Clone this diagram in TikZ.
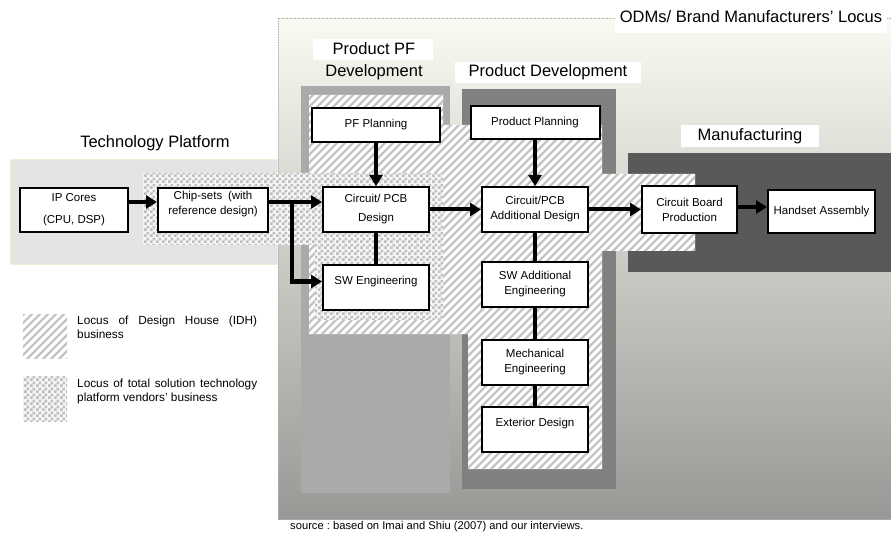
\documentclass[tikz,border=0pt]{standalone}
\usepackage{fontspec}
\setmainfont{Liberation Sans}
\usetikzlibrary{arrows.meta, patterns}
\definecolor{odmtop}{RGB}{250,250,242}
\definecolor{odmbot}{RGB}{152,152,150}
\definecolor{tpgrey}{RGB}{228,228,228}
\definecolor{tpedge}{RGB}{240,240,212}
\definecolor{pfgrey}{RGB}{170,170,170}
\definecolor{pdgrey}{RGB}{128,128,128}
\definecolor{mfgrey}{RGB}{89,89,89}
\definecolor{stripegrey}{RGB}{196,196,196}
\definecolor{checkgrey}{RGB}{190,190,190}
\hyphenpenalty=10000
\exhyphenpenalty=10000
\frenchspacing
\pgfdeclarepatternformonly{bigchecks}{\pgfqpoint{0pt}{0pt}}{\pgfqpoint{6pt}{6pt}}{\pgfqpoint{6pt}{6pt}}{%
  \pgfpathrectangle{\pgfqpoint{0pt}{0pt}}{\pgfqpoint{3pt}{3pt}}%
  \pgfpathrectangle{\pgfqpoint{3pt}{3pt}}{\pgfqpoint{3pt}{3pt}}%
  \pgfusepath{fill}}

\begin{document}
\begin{tikzpicture}[x=1pt, y=-1pt,
        stage/.style={rectangle, draw=black, fill=white, line width=2pt, minimum width=106pt, minimum height=45pt, align=center, inner sep=1pt, font=\fontsize{11.5}{15}\selectfont},
        flow/.style={line width=4pt, -{Triangle[length=11pt,width=13pt]}},
        link/.style={line width=4pt},
        phase/.style={font=\fontsize{16.5}{22}\selectfont, align=center, inner sep=0pt},
        note/.style={font=\fontsize{11.8}{14}\selectfont, anchor=north west, text width=180pt, align=justify, inner sep=0pt},
        stripes/.style={stripegrey, line width=2.4pt},
        checks/.style={pattern=bigchecks, pattern color=checkgrey}
    ]
        \useasboundingbox (0,0) rectangle (891,537);

        % areas
        \shade[top color=odmtop, bottom color=odmbot] (278,18) rectangle (891,519);
        \draw[gray!60, densely dotted, line width=0.6pt] (891,18) -- (278,18) -- (278,519) -- (891,519);
        \draw[tpedge, fill=tpgrey, line width=1pt] (10,160) rectangle (277,265);
        \fill[pfgrey] (301,86) rectangle (450,493);
        \fill[pdgrey] (462,89) rectangle (616,489);
        \fill[mfgrey] (628,153) rectangle (891,272);

        % design house locus
        \begin{scope}
            \clip (309,95) -- (443,95) -- (443,125) -- (602,125) -- (602,174) -- (695,174) -- (695,251)
                -- (602,251) -- (602,469) -- (468,469) -- (468,334) -- (309,334) -- cycle;
            \fill[white] (300,90) rectangle (700,470);
            \foreach \c in {400,408,...,1080}
                \draw[stripes] (\c,0) -- (\c-600,600);
        \end{scope}

        % platform vendors' locus
        \fill[white!96!black] (143,173) -- (443,173) -- (443,320) -- (315,320) -- (315,245) -- (143,245) -- cycle;
        \fill[checks] (143,173) -- (443,173) -- (443,320) -- (315,320) -- (315,245) -- (143,245) -- cycle;

        % headings
        \node[phase, fill=white, minimum width=272pt, minimum height=33pt] (odm) at (751,16.5) {ODMs/ Brand Manufacturers' Locus};
        \node[phase] (tp) at (155,143) {Technology Platform};
        \fill[white] (313,39) rectangle (433,60);
        \node[phase] (pf) at (374,61) {Product PF\\Development};
        \node[phase, fill=white, minimum width=186pt, minimum height=21pt] (pd) at (548,72.5) {Product Development};
        \node[phase, fill=white, minimum width=138pt, minimum height=22pt] (mf) at (750,136) {Manufacturing};

        % stages
        \node[stage, minimum width=108pt, minimum height=44pt, font=\fontsize{11.5}{22}\selectfont] (ip) at (74,210) {IP Cores\\(CPU, DSP)};
        \node[stage, minimum width=110pt, minimum height=44pt] (chip) at (213,210) {Chip-sets\enspace(with\\reference design)\\\mbox{}};
        \node[stage, minimum width=128pt, minimum height=34pt] (pfplan) at (376,125) {PF Planning};
        \node[stage, font=\fontsize{11.5}{19}\selectfont] (pcbd) at (376,209.5) {Circuit/ PCB\\Design};
        \node[stage] (sweng) at (376,287.5) {SW Engineering\\\mbox{}};
        \node[stage, minimum width=129pt, minimum height=33pt] (prodplan) at (535,122.5) {Product Planning};
        \node[stage] (pcba) at (535,209.5) {Circuit/PCB\\Additional Design};
        \node[stage] (swadd) at (535,284.5) {SW Additional\\Engineering};
        \node[stage] (mech) at (535,362.5) {Mechanical\\Engineering};
        \node[stage] (ext) at (535,429.5) {Exterior Design\\\mbox{}};
        \node[stage, minimum width=95pt, minimum height=47pt] (cbp) at (689.5,209.5) {Circuit Board\\Production};
        \node[stage, minimum width=107pt, minimum height=43pt] (hand) at (821.5,211.5) {Handset Assembly};

        % connectors
        \coordinate (fork) at (292,202);
        \draw[flow] ([yshift=8pt]ip.east) -- ([yshift=8pt]chip.west);
        \draw[flow] ([yshift=8pt]chip.east) -- (fork) -- (fork -| pcbd.west);
        \draw[flow] (fork) |- ([yshift=6pt]sweng.west);
        \draw[flow] (pfplan) -- (pcbd);
        \draw[link] (pcbd) -- (sweng);
        \draw[flow] (pcbd) -- (pcba);
        \draw[flow] (prodplan) -- (pcba);
        \draw[link] (pcba) -- (swadd);
        \draw[link] (swadd) -- (mech);
        \draw[link] (mech) -- (ext);
        \draw[flow] (pcba) -- (cbp);
        \draw[flow] ([yshift=2.5pt]cbp.east) -- ([yshift=2.5pt]cbp.east -| hand.west);

        % legend
        \begin{scope}
            \clip (23,314) rectangle (67,358);
            \fill[white] (23,314) rectangle (67,358);
            \foreach \c in {330,338,...,440}
                \draw[stripes] (\c,0) -- (\c-400,400);
        \end{scope}
        \fill[white!96!black] (23,376) rectangle (67,421);
        \fill[checks] (23,376) rectangle (67,421);
        \node[note] (idh) at (77,316) {Locus of Design House (IDH) business};
        \node[note] (tsv) at (77,379) {Locus of total solution technology platform vendors' business};

        \node[anchor=west, inner sep=0pt, font=\fontsize{11.2}{12}\selectfont] (src) at (290,527) {source : based on Imai and Shiu (2007) and our interviews.};
    \end{tikzpicture}
\end{document}
